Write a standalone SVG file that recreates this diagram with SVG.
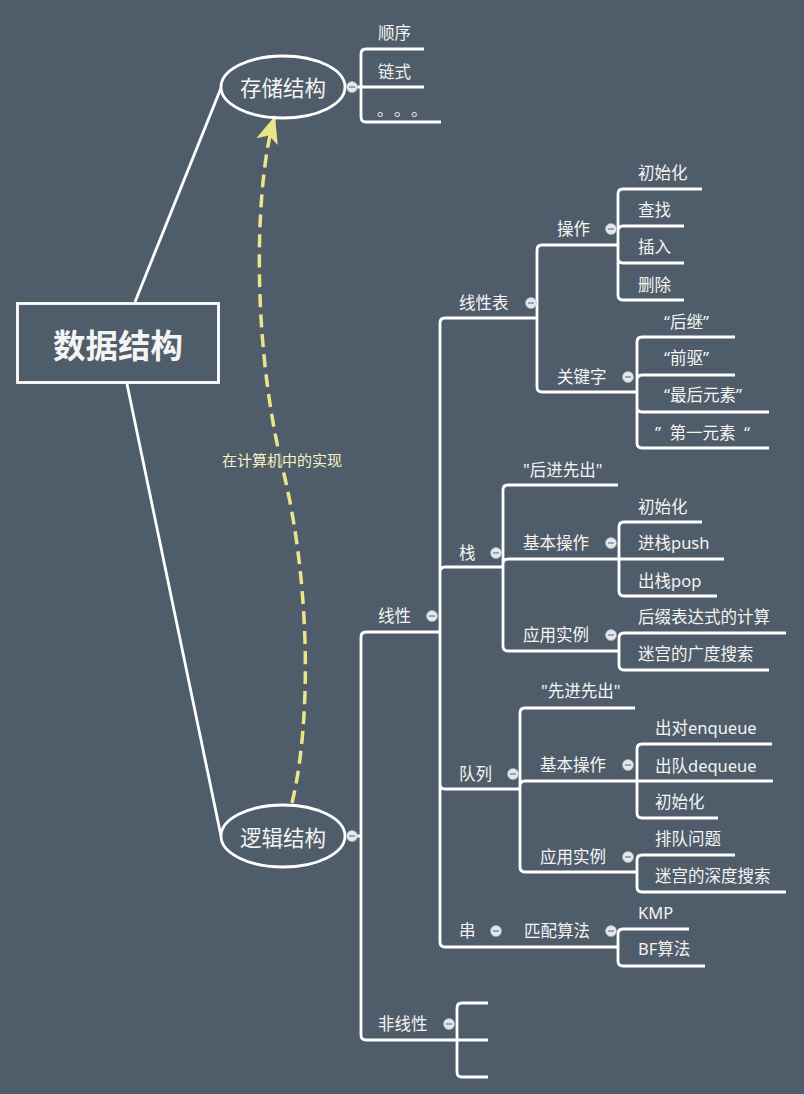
<svg xmlns="http://www.w3.org/2000/svg" xmlns:xlink="http://www.w3.org/1999/xlink" width="804" height="1094" viewBox="0 0 804 1094">
<style>
.bg{fill:#4f5d6a}
.ln{fill:none;stroke:#ffffff;stroke-width:2.8}
.t{font-family:"Noto Sans","Noto Sans CJK SC",sans-serif;font-size:16.5px;fill:#f4f4f4}
.t2{font-family:"Noto Sans","Noto Sans CJK SC",sans-serif;font-size:21.5px;fill:#f4f4f4;text-anchor:middle}
.root{font-family:"Noto Sans CJK SC",sans-serif;font-size:32.5px;font-weight:bold;fill:#f4f4f4;text-anchor:middle}
.lbl{font-family:"Noto Sans CJK SC",sans-serif;font-size:15px;fill:#f6f2c6;text-anchor:middle}
.shape{fill:none;stroke:#ffffff;stroke-width:2.8}
.dash{fill:none;stroke:#ece489;stroke-width:3.5;stroke-dasharray:13 7}
</style>
<defs>
<g id="mn">
<circle r="5.5" fill="#e4e7ec" stroke="#aab3c0" stroke-width="0.6"/>
<line x1="-3" y1="0" x2="3" y2="0" stroke="#6f7f99" stroke-width="1.3"/>
</g>
<marker id="ah" markerUnits="userSpaceOnUse" markerWidth="30" markerHeight="30" viewBox="-26 -12 28 24" refX="0" refY="0" orient="auto">
<path d="M0,0 L-25,-10.5 L-19,0 L-25,10.5 Z" fill="#ece489"/>
</marker>
</defs>
<rect class="bg" x="0" y="0" width="804" height="1094"/>

<g id="connectors">
<path class="ln" d="M135,302 L221,88"/>
<path class="ln" d="M127,384 L221,836"/>
<path class="ln" d="M352,87 H361 M361,87 V54 Q361,49 366,49 H424 M361,87 H424 M361,87 V117 Q361,122 366,122 H441"/>
<path class="ln" d="M352,836 H361 M361,836 V637 Q361,632 366,632 H440 M361,836 V1035 Q361,1040 366,1040 H457"/>
<path class="ln" d="M440,632 V323 Q440,318 445,318 H537 M440,632 V572 Q440,567 445,567 H503 M440,632 V784 Q440,789 445,789 H520 M440,632 V942 Q440,947 445,947 H503"/>
<path class="ln" d="M537,318 V250 Q537,245 542,245 H618 M537,318 V387 Q537,392 542,392 H637"/>
<path class="ln" d="M618,245 V194 Q618,189 623,189 H702 M618,245 V231 Q618,226 623,226 H684 M618,245 V258 Q618,263 623,263 H684 M618,245 V295 Q618,300 623,300 H684"/>
<path class="ln" d="M637,392 V342 Q637,337 642,337 H735 M637,392 V380 Q637,375 642,375 H735 M637,392 V407 Q637,412 642,412 H769 M637,392 V443 Q637,448 642,448 H769"/>
<path class="ln" d="M503,567 V490 Q503,485 508,485 H618 M503,567 V564 Q503,559 508,559 H619 M503,567 V646 Q503,651 508,651 H619"/>
<path class="ln" d="M619,559 V527 Q619,522 624,522 H702 M619,559 H724 M619,559 V591 Q619,596 624,596 H717"/>
<path class="ln" d="M619,651 V638 Q619,633 624,633 H786 M619,651 V665 Q619,670 624,670 H769"/>
<path class="ln" d="M520,789 V713 Q520,708 525,708 H635 M520,789 V786 Q520,781 525,781 H637 M520,789 V867 Q520,872 525,872 H637"/>
<path class="ln" d="M637,781 V749 Q637,744 642,744 H772 M637,781 H773 M637,781 V813 Q637,818 642,818 H718"/>
<path class="ln" d="M637,872 V860 Q637,855 642,855 H735 M637,872 V887 Q637,892 642,892 H786"/>
<path class="ln" d="M503,947 H618"/>
<path class="ln" d="M618,947 V934 Q618,929 623,929 H689 M618,947 V961 Q618,966 623,966 H705"/>
<path class="ln" d="M457,1040 V1008 Q457,1003 462,1003 H488 M457,1040 H488 M457,1040 V1072 Q457,1077 462,1077 H488"/>
<path class="dash" d="M292,803 C312,720 310,580 283,470 C250.6,338 255,180 275,116" marker-end="url(#ah)"/>
<rect x="221" y="451" width="122" height="19" fill="#4f5d6a" opacity="0.75"/>
<text class="lbl" x="282" y="466">在计算机中的实现</text>
</g>

<g id="root">
<rect class="shape" x="17.5" y="303.5" width="201" height="79"/>
<text class="root" x="118" y="358">数据结构</text>
</g>

<g id="n-storage">
<ellipse class="shape" cx="283" cy="87" rx="62" ry="31"/>
<text class="t2" x="283" y="96">存储结构</text>
<use xlink:href="#mn" x="352" y="87"/>
</g>
<g id="n-shunxu"><text class="t" x="378" y="39">顺序</text></g>
<g id="n-lianshi"><text class="t" x="378" y="78">链式</text></g>
<g id="n-dots"><text class="t" x="377 394 411" y="116">。。。</text></g>

<g id="n-logic">
<ellipse class="shape" cx="283" cy="836" rx="62" ry="31"/>
<text class="t2" x="283" y="846">逻辑结构</text>
<use xlink:href="#mn" x="352" y="836"/>
</g>

<g id="n-linear"><text class="t" x="378" y="622">线性</text><use xlink:href="#mn" x="432" y="616"/></g>
<g id="n-nonlinear"><text class="t" x="378" y="1030">非线性</text><use xlink:href="#mn" x="449" y="1024"/></g>

<g id="n-list"><text class="t" x="459" y="309">线性表</text><use xlink:href="#mn" x="531" y="303"/></g>
<g id="n-ops"><text class="t" x="557" y="235">操作</text><use xlink:href="#mn" x="611" y="229"/></g>
<g id="n-ops-1"><text class="t" x="638" y="179">初始化</text></g>
<g id="n-ops-2"><text class="t" x="638" y="216">查找</text></g>
<g id="n-ops-3"><text class="t" x="638" y="253">插入</text></g>
<g id="n-ops-4"><text class="t" x="638" y="291">删除</text></g>
<g id="n-keys"><text class="t" x="557" y="383">关键字</text><use xlink:href="#mn" x="628" y="377"/></g>
<g id="n-keys-1"><text class="t" x="664" y="328">“后继”</text></g>
<g id="n-keys-2"><text class="t" x="664" y="364">“前驱”</text></g>
<g id="n-keys-3"><text class="t" x="664" y="401">“最后元素”</text></g>
<g id="n-keys-4"><text class="t" x="655" y="439" xml:space="preserve">”  第一元素  “</text></g>

<g id="n-stack"><text class="t" x="459" y="559">栈</text><use xlink:href="#mn" x="496" y="553"/></g>
<g id="n-stack-lifo"><text class="t" x="523" y="476">"后进先出"</text></g>
<g id="n-stack-ops"><text class="t" x="523" y="549">基本操作</text><use xlink:href="#mn" x="611" y="543"/></g>
<g id="n-stack-ops-1"><text class="t" x="638" y="513">初始化</text></g>
<g id="n-stack-ops-2"><text class="t" x="638" y="549">进栈push</text></g>
<g id="n-stack-ops-3"><text class="t" x="638" y="587">出栈pop</text></g>
<g id="n-stack-app"><text class="t" x="523" y="641">应用实例</text><use xlink:href="#mn" x="611" y="635"/></g>
<g id="n-stack-app-1"><text class="t" x="638" y="623">后缀表达式的计算</text></g>
<g id="n-stack-app-2"><text class="t" x="638" y="660">迷宫的广度搜索</text></g>

<g id="n-queue"><text class="t" x="459" y="780">队列</text><use xlink:href="#mn" x="513" y="774"/></g>
<g id="n-queue-fifo"><text class="t" x="541" y="697">"先进先出"</text></g>
<g id="n-queue-ops"><text class="t" x="540" y="771">基本操作</text><use xlink:href="#mn" x="628" y="765"/></g>
<g id="n-queue-ops-1"><text class="t" x="655" y="734">出对enqueue</text></g>
<g id="n-queue-ops-2"><text class="t" x="655" y="772">出队dequeue</text></g>
<g id="n-queue-ops-3"><text class="t" x="655" y="808">初始化</text></g>
<g id="n-queue-app"><text class="t" x="540" y="863">应用实例</text><use xlink:href="#mn" x="628" y="857"/></g>
<g id="n-queue-app-1"><text class="t" x="655" y="845">排队问题</text></g>
<g id="n-queue-app-2"><text class="t" x="655" y="882">迷宫的深度搜索</text></g>

<g id="n-string"><text class="t" x="459" y="937">串</text><use xlink:href="#mn" x="496" y="931"/></g>
<g id="n-match"><text class="t" x="524" y="937">匹配算法</text><use xlink:href="#mn" x="611" y="931"/></g>
<g id="n-kmp"><text class="t" x="638" y="919">KMP</text></g>
<g id="n-bf"><text class="t" x="638" y="955">BF算法</text></g>
</svg>
